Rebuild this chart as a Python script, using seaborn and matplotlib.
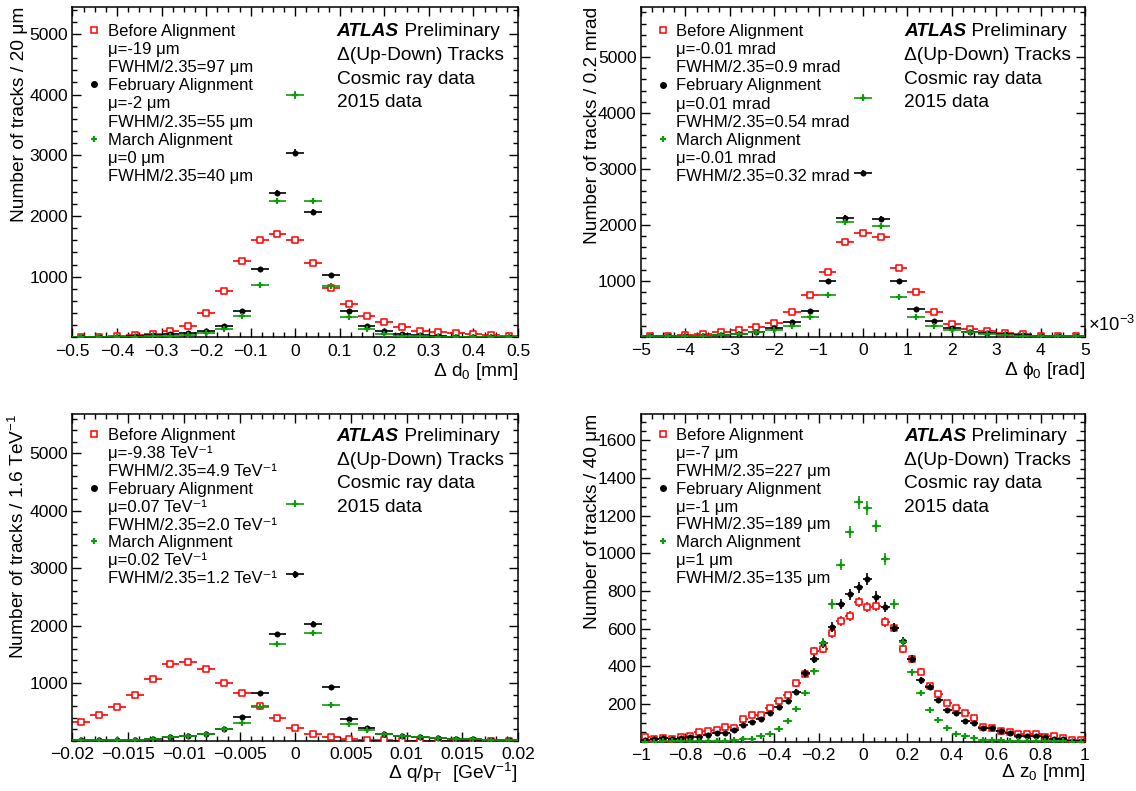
import numpy as np
import pandas as pd
import matplotlib
matplotlib.use("Agg")
import matplotlib.pyplot as plt
from matplotlib.lines import Line2D
from matplotlib.ticker import MultipleLocator, FixedLocator, FuncFormatter
import seaborn as sns

sns.set_style("ticks")
plt.rcParams["font.family"] = ["Liberation Sans", "DejaVu Sans"]
plt.rcParams["mathtext.fontset"] = "custom"
plt.rcParams["mathtext.rm"] = "Liberation Sans"
plt.rcParams["mathtext.it"] = "Liberation Sans:italic"
plt.rcParams["mathtext.bf"] = "Liberation Sans:bold"
plt.rcParams["axes.linewidth"] = 1.1
for key in ["text.color", "axes.labelcolor", "xtick.color", "ytick.color", "axes.edgecolor"]:
    plt.rcParams[key] = "black"

# delta d0, 25 bins between -0.5 and 0.5 mm
d0_edges = np.linspace(-0.5, 0.5, 26)
d0_before = [8, 8, 22, 39, 50, 100, 194, 406, 761, 1261, 1600, 1706, 1600,
             1228, 806, 556, 344, 250, 167, 111, 83, 72, 56, 39, 22]
d0_feb = [5, 8, 12, 20, 33, 50, 67, 100, 194, 439, 1128, 2383, 3044,
          2072, 1033, 433, 189, 111, 56, 39, 22, 14, 10, 7, 5]
d0_march = [3, 5, 8, 11, 16, 22, 39, 72, 139, 344, 856, 2244, 3990,
            2244, 844, 328, 133, 61, 28, 17, 11, 8, 5, 4, 3]

# delta phi0, 25 bins between -5 and 5 (x 10^-3 rad)
phi0_edges = np.linspace(-5, 5, 26)
phi0_before = [12, 18, 24, 48, 77, 113, 173, 238, 446, 744, 1155, 1690, 1851,
               1786, 1232, 798, 435, 226, 137, 107, 71, 42, 18, 12, 6]
phi0_feb = [6, 10, 14, 20, 36, 54, 89, 149, 256, 464, 994, 2125, 2929,
            2107, 988, 488, 274, 155, 77, 60, 42, 24, 12, 8, 5]
phi0_march = [5, 8, 12, 18, 30, 48, 77, 119, 185, 345, 744, 2054, 4274,
              1982, 702, 345, 190, 119, 77, 54, 36, 20, 12, 8, 5]

# delta q/pT, 25 bins between -0.02 and 0.02 GeV^-1
qpt_edges = np.linspace(-0.02, 0.02, 26)
qpt_before = [322, 454, 592, 787, 1075, 1339, 1374, 1241, 1011, 839, 609, 397, 230,
              126, 57, 29, 11, 6, 3, 2, 2, 1, 1, 1, 1]
qpt_feb = [10, 10, 15, 20, 30, 60, 85, 125, 213, 408, 833, 1856, 2891,
           2029, 931, 385, 230, 121, 80, 63, 40, 29, 23, 11, 6]
qpt_march = [8, 10, 12, 16, 25, 57, 75, 115, 201, 305, 586, 1684, 4121,
             1879, 621, 293, 184, 115, 75, 57, 40, 29, 23, 11, 6]

# delta z0, 50 bins between -1 and 1 mm
z0_edges = np.linspace(-1, 1, 51)
z0_before = [25, 16, 19, 16, 27, 30, 50, 57, 64, 76, 74, 119, 140, 143, 179, 218, 250,
             310, 359, 483, 494, 575, 641, 669, 740, 713, 722, 637, 605, 494, 437, 372,
             294, 253, 204, 177, 154, 124, 80, 71, 55, 53, 41, 39, 41, 27, 30, 21, 9, 9]
z0_feb = [7, 14, 21, 14, 21, 25, 27, 35, 48, 48, 64, 87, 103, 120, 150, 182, 218,
          265, 365, 437, 522, 609, 733, 782, 819, 864, 770, 717, 605, 533, 437, 327,
          292, 219, 168, 150, 112, 101, 71, 74, 55, 44, 32, 28, 32, 27, 16, 14, 5, 5]
z0_march = [1, 1, 2, 2, 2, 3, 3, 4, 4, 5, 7, 14, 14, 30, 41, 69, 110, 175, 257,
            373, 526, 731, 940, 1113, 1271, 1241, 1145, 972, 733, 527, 368, 258,
            170, 117, 71, 41, 32, 18, 9, 9, 7, 5, 4, 3, 3, 2, 2, 2, 1, 1]

series_names = ["Before Alignment", "February Alignment", "March Alignment"]
d0_stats = ["μ=-19 μm", "FWHM/2.35=97 μm", "μ=-2 μm", "FWHM/2.35=55 μm",
            "μ=0 μm", "FWHM/2.35=40 μm"]
phi0_stats = ["μ=-0.01 mrad", "FWHM/2.35=0.9 mrad", "μ=0.01 mrad", "FWHM/2.35=0.54 mrad",
              "μ=-0.01 mrad", "FWHM/2.35=0.32 mrad"]
qpt_stats = ["μ=-9.38 TeV⁻¹", "FWHM/2.35=4.9 TeV⁻¹", "μ=0.07 TeV⁻¹", "FWHM/2.35=2.0 TeV⁻¹",
             "μ=0.02 TeV⁻¹", "FWHM/2.35=1.2 TeV⁻¹"]
z0_stats = ["μ=-7 μm", "FWHM/2.35=227 μm", "μ=-1 μm", "FWHM/2.35=189 μm",
            "μ=1 μm", "FWHM/2.35=135 μm"]
info_lines = ["Δ(Up-Down) Tracks", "Cosmic ray data", "2015 data"]

RED = "#ff0000"
GREEN = "#0d9a0d"
styles = [
    dict(marker="s", color=RED, facecolor="white", edgecolor=RED, s=24, linewidth=1.1),
    dict(marker="o", color="black", edgecolor="black", s=15, linewidth=0.4),
    dict(marker="+", color=GREEN, s=22, linewidth=1.6),
]
handles = [
    Line2D([], [], ls="none", marker="s", mfc="none", mec=RED, mew=1.1, ms=4.9),
    Line2D([], [], ls="none", marker="o", mfc="black", mec="black", ms=4.0),
    Line2D([], [], ls="none", marker="+", mec=GREEN, mew=1.6, ms=4.7),
]
blank = Line2D([], [], ls="none", marker="none")


def fmt(v, pos):
    s = f"{round(v, 6) + 0.0:g}"
    if s == "-0":
        s = "0"
    return s.replace("-", "\u2212")


def draw_panel(ax, edges, counts, stats, xmaj, xmin, yticks, ymin, ylim,
               xlabel, ylabel, ylab_x, xlab_y, lift=0.0, spacing=0.19):
    centers = 0.5 * (edges[1:] + edges[:-1])
    half = 0.5 * np.diff(edges)
    for n, (vals, st) in enumerate(zip(counts, styles)):
        vals = np.asarray(vals, dtype=float)
        df = pd.DataFrame({"x": centers, "y": vals})
        ax.errorbar(df["x"], df["y"], xerr=half, yerr=np.sqrt(vals), fmt="none",
                    ecolor=st["color"], elinewidth=1.2, capsize=0, zorder=2 + 2 * n)
        sns.scatterplot(data=df, x="x", y="y", ax=ax, zorder=3 + 2 * n, **st)

    ax.set_xlim(edges[0], edges[-1])
    ax.set_ylim(0, ylim)
    ax.xaxis.set_major_locator(MultipleLocator(xmaj))
    ax.xaxis.set_minor_locator(MultipleLocator(xmin))
    ax.yaxis.set_major_locator(FixedLocator(yticks))
    ax.yaxis.set_minor_locator(MultipleLocator(ymin))
    ax.xaxis.set_major_formatter(FuncFormatter(fmt))
    ax.yaxis.set_major_formatter(FuncFormatter(fmt))
    ax.tick_params(which="both", direction="in", top=True, right=True,
                   labelsize=12.6, width=1.0)
    ax.tick_params(which="major", length=6.5)
    ax.tick_params(which="minor", length=3.4)
    ax.tick_params(axis="x", pad=4.6)
    ax.tick_params(axis="y", pad=3.2)

    ax.set_xlabel(xlabel, loc="right", fontsize=13.8)
    ax.xaxis.set_label_coords(1.0, xlab_y)
    ax.set_ylabel(ylabel, loc="top", fontsize=13.8)
    ax.yaxis.set_label_coords(ylab_x, 1.0)

    labels = [series_names[0], stats[0], stats[1],
              series_names[1], stats[2], stats[3],
              series_names[2], stats[4], stats[5]]
    hl = [handles[0], blank, blank, handles[1], blank, blank, handles[2], blank, blank]
    ax.legend(hl, labels, loc="upper left", bbox_to_anchor=(0.002, 0.991 + lift),
              borderaxespad=0, frameon=False, fontsize=12, handlelength=0.8,
              handletextpad=0.4, borderpad=0.85, labelspacing=spacing)

    top = 21.3 - lift * 240
    t = ax.annotate("ATLAS", xy=(0.593, 1), xycoords="axes fraction",
                    xytext=(0, -top), textcoords="offset points", fontsize=13.8,
                    fontweight="bold", fontstyle="italic", va="baseline")
    ax.annotate(" Preliminary", xy=(1, 0), xycoords=t, fontsize=13.8, va="bottom")
    for k, line in enumerate(info_lines):
        ax.annotate(line, xy=(0.593, 1), xycoords="axes fraction",
                    xytext=(0, -top - 17.3 - 16.95 * k), textcoords="offset points",
                    fontsize=13.8, va="baseline")


fig = plt.figure(figsize=(11.36, 7.91), dpi=100)
ax_d0 = fig.add_axes([0.0638, 0.5735, 0.3922, 0.4181])
ax_phi = fig.add_axes([0.5643, 0.5743, 0.3908, 0.4172])
ax_qpt = fig.add_axes([0.0638, 0.0635, 0.3922, 0.4131])
ax_z0 = fig.add_axes([0.5643, 0.0623, 0.3908, 0.4143])

big = [1000, 2000, 3000, 4000, 5000]
draw_panel(ax_d0, d0_edges, [d0_before, d0_feb, d0_march], d0_stats,
           0.1, 0.025, big, 200, 5450,
           r"Δ d$_0$ [mm]", "Number of tracks / 20 μm", -0.10, -0.072)
draw_panel(ax_phi, phi0_edges, [phi0_before, phi0_feb, phi0_march], phi0_stats,
           1, 0.25, big, 200, 5900,
           r"Δ $\mathrm{\phi}_0$ [rad]", "Number of tracks / 0.2 mrad", -0.09, -0.072)
draw_panel(ax_qpt, qpt_edges, [qpt_before, qpt_feb, qpt_march], qpt_stats,
           0.005, 0.001, big, 200, 5680,
           r"Δ q/p$_\mathrm{T}$  [GeV$^{-1}$]", r"Number of tracks / 1.6 TeV$^{-1}$",
           -0.10, -0.062, lift=0.009, spacing=0.16)
draw_panel(ax_z0, z0_edges, [z0_before, z0_feb, z0_march], z0_stats,
           0.2, 0.05, [200, 400, 600, 800, 1000, 1200, 1400, 1600], 50, 1740,
           r"Δ z$_0$ [mm]", "Number of tracks / 40 μm", -0.09, -0.062,
           lift=0.009, spacing=0.17)

ax_phi.text(1.006, 0.004, r"$\times$10$^{-3}$", transform=ax_phi.transAxes,
            ha="left", va="bottom", fontsize=13.2)

fig.savefig("out.png", dpi=100)
